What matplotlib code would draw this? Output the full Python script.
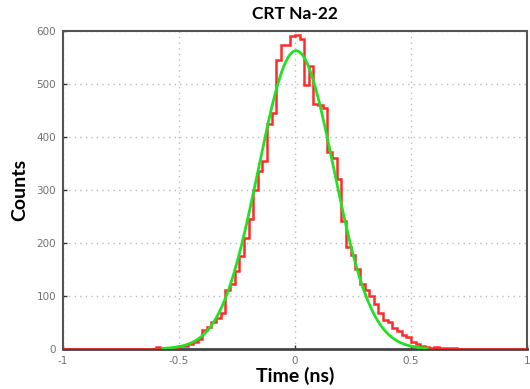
import numpy as np
import matplotlib
matplotlib.use("Agg")
import matplotlib.pyplot as plt

# histogram of coincidence time differences (bin width 0.02 ns)
bin_edges_start = -1.0
bin_width = 0.02
# counts for bins starting at -0.62 ns; all other bins are empty
first_filled_bin = -0.62
counts_filled = [
    0, 4, 1, 1, 2, 4, 6, 5, 10, 14,          # -0.62 .. -0.44
    19, 36, 41, 50, 58, 67, 112, 122, 148, 176,  # -0.42 .. -0.24
    210, 245, 300, 335, 355, 425, 445, 545, 573, 573,  # -0.22 .. -0.04
    590, 592, 585, 498, 534, 462, 460, 455, 372, 360,  # -0.02 .. 0.16
    320, 242, 192, 178, 150, 122, 112, 100, 85, 68,    # 0.18 .. 0.36
    55, 50, 40, 33, 26, 22, 13, 10, 6, 3,              # 0.38 .. 0.56
    2, 4, 1, 2, 1, 2, 0,                               # 0.58 .. 0.70
]

# gaussian fit parameters
fit_amplitude = 563.0
fit_mean = 0.005
fit_sigma = 0.162
fit_range = (-0.57, 0.57)

x_ticks = [-1, -0.5, 0, 0.5, 1]
x_tick_labels = ["-1", "-0.5", "0", "0.5", "1"]
y_ticks = [0, 100, 200, 300, 400, 500, 600]

n_bins = int(round(2.0 / bin_width))
edges = bin_edges_start + bin_width * np.arange(n_bins + 1)
counts = np.zeros(n_bins)
start = int(round((first_filled_bin - bin_edges_start) / bin_width))
counts[start:start + len(counts_filled)] = counts_filled

fit_x = np.linspace(fit_range[0], fit_range[1], 400)
fit_y = fit_amplitude * np.exp(-(fit_x - fit_mean) ** 2 / (2 * fit_sigma ** 2))

label_font = ["Lato", "DejaVu Sans"]

fig = plt.figure(figsize=(5.30, 3.89), dpi=100)
ax = fig.add_axes([0.119, 0.103, 0.875, 0.817])

ax.stairs(counts, edges, color="#ff2a2a", linewidth=1.8, zorder=3)
ax.plot(fit_x, fit_y, color="#22e022", linewidth=2.0, zorder=4)

ax.set_xlim(-1, 1)
ax.set_ylim(0, 600)
ax.set_xticks(x_ticks)
ax.set_xticklabels(x_tick_labels)
ax.set_yticks(y_ticks)
ax.tick_params(direction="in", length=3, width=1, labelsize=7.5,
               labelcolor="#707070", color="#333333", pad=5)

ax.grid(True, color="#bbbbbb", linestyle=(0, (1, 3)), linewidth=1.0)
for s in ax.spines.values():
    s.set_color("#555555")
    s.set_linewidth(1.5)
ax.spines["bottom"].set_color("#444444")
ax.spines["bottom"].set_linewidth(2.0)

ax.set_title("CRT Na-22", fontsize=12.5, fontweight="bold",
             family=label_font, pad=9)
ax.set_xlabel("Time (ns)", fontsize=14, fontweight="bold",
              family=label_font, labelpad=1)
ax.set_ylabel("Counts", fontsize=14, fontweight="bold",
              family=label_font, labelpad=6)

fig.savefig("out.png", dpi=100)
